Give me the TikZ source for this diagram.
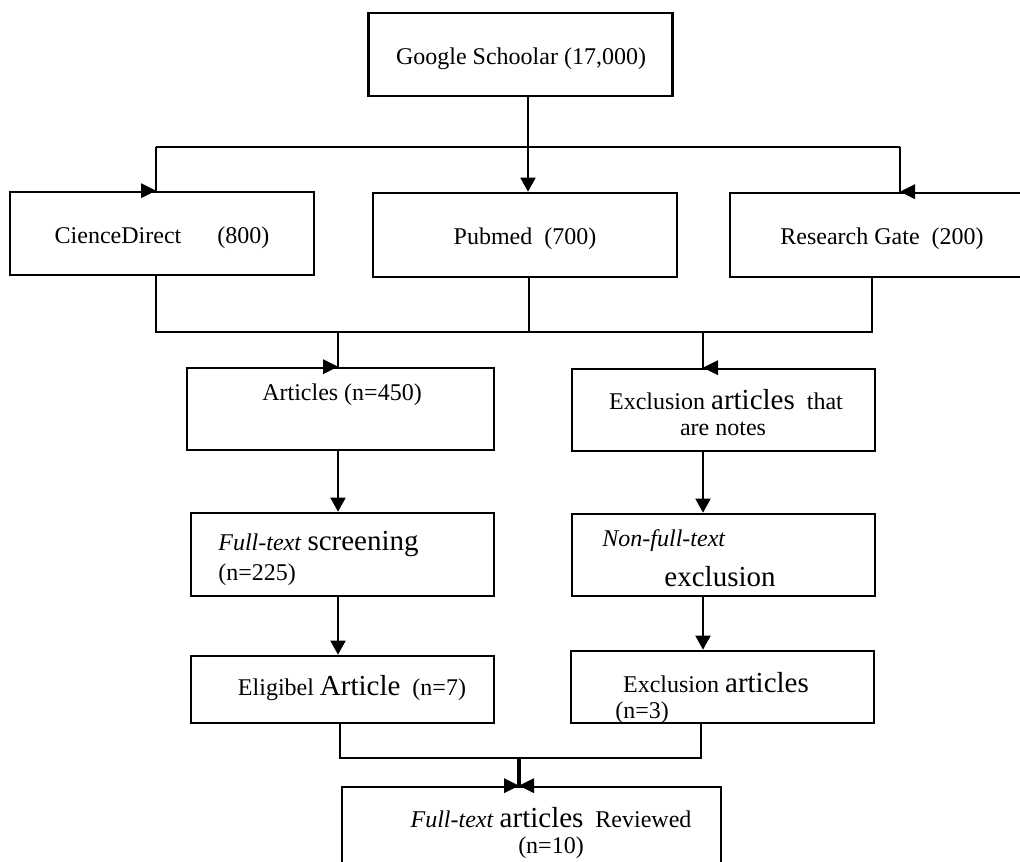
\documentclass[tikz,border=0pt]{standalone}
\usepackage{fontspec}
\setmainfont{Liberation Serif}
\usetikzlibrary{arrows.meta,calc}
\newcommand\bigw[1]{{\fontsize{14.5}{16}\selectfont #1}}
\newcommand\rtri[1]{\fill (#1) -- ++(-15,-7.5) -- ++(0,15) -- cycle;}
\newcommand\ltri[1]{\fill (#1) -- ++(15,-7.5) -- ++(0,15) -- cycle;}
\begin{document}
\begin{tikzpicture}[x=0.5pt,y=-0.5pt,
  box/.style={draw,line width=1.3pt,inner sep=0pt},
  ln/.style={line width=0.9pt},
  arr/.style={ln,-{Triangle[length=7pt,width=7.5pt]}},
  txt/.style={inner sep=0pt,font=\fontsize{12}{14}\selectfont},
]
\useasboundingbox (0,0) rectangle (1020,861);
% boxes
\node[box,minimum width=152pt,minimum height=41.5pt] (G) at (520.5,54.5) {};
\node[box,minimum width=152pt,minimum height=41.5pt] (CD) at (162,233.5) {};
\node[box,minimum width=152pt,minimum height=42pt] (PM) at (525,235) {};
\node[box,minimum width=152pt,minimum height=42pt] (RG) at (882,235) {};
\node[box,minimum width=153.5pt,minimum height=41pt] (AR) at (340.5,409) {};
\node[box,minimum width=151.5pt,minimum height=41pt] (EX) at (723.5,410) {};
\node[box,minimum width=151.5pt,minimum height=41.5pt] (FT) at (342.5,554.5) {};
\node[box,minimum width=151.5pt,minimum height=41pt] (NF) at (723.5,555) {};
\node[box,minimum width=151.5pt,minimum height=33.5pt] (EL) at (342.5,689.5) {};
\node[box,minimum width=151.5pt,minimum height=36pt] (EA) at (722.5,687) {};
\node[box,minimum width=189.5pt,minimum height=51.5pt] (FR) at (531.5,838.5) {};
% texts
\node[txt] (tG) at (521,59) {Google Schoolar (17,000)};
\node[txt] (tCD) at (162,238) {CienceDirect\hspace{18pt}(800)};
\node[txt] (tPM) at (525,239) {Pubmed~~(700)};
\node[txt] (tRG) at (882,239) {Research Gate~~(200)};
\node[txt] (tAR) at (342,395) {Articles (n=450)};
\node[txt] (tEX1) at (726,400) {Exclusion \bigw{articles}~~that};
\node[txt] (tEX2) at (723,429) {are notes};
\node[txt,anchor=west] (tFT1) at (218,544) {\textit{Full-text} \bigw{screening}};
\node[txt,anchor=west] (tFT2) at (218,575) {(n=225)};
\node[txt,anchor=west] (tNF1) at (602,541) {\textit{Non-full-text}};
\node[txt] (tNF2) at (720,577) {\bigw{exclusion}};
\node[txt] (tEL) at (352,688) {Eligibel \bigw{Article}~~(n=7)};
\node[txt] (tEA1) at (716,683) {Exclusion \bigw{articles}};
\node[txt,anchor=west] (tEA2) at (615,713) {(n=3)};
\node[txt] (tFR1) at (551,818) {\textit{Full-text} \bigw{articles}~~Reviewed};
\node[txt] (tFR2) at (551,848) {(n=10)};
% top split
\coordinate (s0) at (528,147);
\coordinate (h1) at (156,147);
\coordinate (h2) at (900,147);
\draw[arr] (G.south -| s0) -- (PM.north -| s0);
\draw[ln] (h1) -- (h2);
\draw[ln] (h1) -- (CD.north -| h1);
\draw[ln] (h2) -- (RG.north -| h2);
\rtri{CD.north -| h1}
\ltri{RG.north -| h2}
% merge from three sources
\coordinate (b1) at (156,332);
\coordinate (b2) at (529,332);
\coordinate (b3) at (872,332);
\coordinate (ba) at (338,332);
\coordinate (bb) at (703,332);
\draw[ln] (CD.south -| b1) -- (b1) -- (b3) -- (RG.south -| b3);
\draw[ln] (PM.south -| b2) -- (b2);
\draw[ln] (ba) -- (AR.north -| ba);
\draw[ln] (bb) -- (EX.north -| bb);
\rtri{AR.north -| ba}
\ltri{EX.north -| bb}
% columns
\coordinate (cl) at (338,0);
\coordinate (cr) at (703,0);
\draw[arr] (AR.south -| cl) -- (FT.north -| cl);
\draw[arr] (EX.south -| cr) -- (NF.north -| cr);
\draw[arr] (FT.south -| cl) -- (EL.north -| cl);
\draw[arr] (NF.south -| cr) -- (EA.north -| cr);
% final merge
\coordinate (m1) at (340,758);
\coordinate (m2) at (701,758);
\coordinate (m0) at (519,758);
\draw[ln] (EL.south -| m1) -- (m1) -- (m2) -- (EA.south -| m2);
\draw[ln,line width=1.8pt] (m0) -- (FR.north -| m0);
\rtri{FR.north -| m0}
\ltri{FR.north -| m0}
\end{tikzpicture}
\end{document}
